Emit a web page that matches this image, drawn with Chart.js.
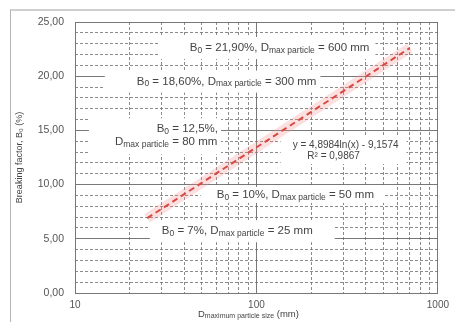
<!DOCTYPE html>
<html>
<head>
<meta charset="utf-8">
<script src="https://cdn.jsdelivr.net/npm/chart.js@4.4.0/dist/chart.umd.min.js"></script>
<style>
html, body { margin: 0; padding: 0; background: #fff; }
#wrap { position: relative; width: 455px; height: 322px; overflow: hidden; }
#frame { position: absolute; left: 10px; top: 9px; right: 0; bottom: 0; border-left: 1px solid #b4b4b4; border-top: 2px solid #cfcfcf; }
canvas { position: absolute; left: 0; top: 0; }
</style>
</head>
<body>
<div id="wrap"><div id="frame"></div><canvas id="breakChart" width="455" height="322"></canvas></div>
<script>
// points of the figure: max particle size (mm) -> breaking factor (%)
var particleSize = [25, 50, 80, 300, 600];
var breakingFactor = [7, 10, 12.5, 18.6, 21.9];
var factorText = ['7%', '10%', '12,5%', '18,60%', '21,90%'];

// trend line as drawn (read at both ends)
var trendX = [25, 700];
var trendY = [6.9, 22.6];
var trendEq = 'y = 4,8984ln(x) - 9,1574';
var trendR2 = '0,9867';

// ticks / grid
var xMajor = [10, 100, 1000];
var xMinor = [20, 30, 40, 50, 60, 70, 80, 90, 200, 300, 400, 500, 600, 700, 800, 900];
var yMajor = [0, 5, 10, 15, 20, 25];
var yMinor = [1, 2, 3, 4, 6, 7, 8, 9, 11, 12, 13, 14, 16, 17, 18, 19, 21, 22, 23, 24];

var FONT = '"Liberation Sans", Arial, sans-serif';
var MAIN = '11.5px ' + FONT;
var SUB = '8.5px ' + FONT;

function partsFor(i) {
	return [['B'], ['0', 1], [' = ' + factorText[i] + ', D'], ['max particle', 1], [' = ' + particleSize[i] + ' mm']];
}

function richWidth(ctx, parts, main, sub) {
	var w = 0;
	for (var k = 0; k < parts.length; k++) {
		ctx.font = parts[k][1] ? (sub || SUB) : (main || MAIN);
		w += ctx.measureText(parts[k][0]).width;
	}
	return w;
}

function drawRich(ctx, parts, x, y, main, sub) {
	ctx.textBaseline = 'middle';
	ctx.textAlign = 'left';
	for (var k = 0; k < parts.length; k++) {
		ctx.font = parts[k][1] ? (sub || SUB) : (main || MAIN);
		ctx.fillText(parts[k][0], x, parts[k][1] ? y + 2.5 : y);
		x += ctx.measureText(parts[k][0]).width;
	}
}

// label blocks, anchored in data units (left edge of text, middle of line)
var labelBlocks = [
	{ x: 42.9, y: 22.6, parts: partsFor(4), pad: [30, 6, 11] },
	{ x: 21.9, y: 19.5, parts: partsFor(3), pad: [32, 4, 11] },
	{ x: 60.4, y: 9.05, parts: partsFor(1), pad: [16, 10, 8] },
	{ x: 30.1, y: 5.7, parts: partsFor(0), pad: [12, 22, 11] }
];
// the 80 mm label sits on two lines
var twoLine = {
	x1: 28.2, x2: 16.6, y: 15.1,
	first: [['B'], ['0', 1], [' = ' + factorText[2] + ',']],
	second: [['D'], ['max particle', 1], [' = ' + particleSize[2] + ' mm']]
};

var annotatePlugin = {
	id: 'annotate',
	beforeDatasetsDraw: function(chart) {
		var ctx = chart.ctx;
		var xs = chart.scales.x, ys = chart.scales.y;
		ctx.save();
		labelBlocks.forEach(function(b) {
			var lx = xs.getPixelForValue(b.x);
			var ly = ys.getPixelForValue(b.y);
			var w = richWidth(ctx, b.parts);
			ctx.fillStyle = '#fff';
			ctx.fillRect(lx - b.pad[0], ly - b.pad[2], w + b.pad[0] + b.pad[1], b.pad[2] * 2);
			ctx.fillStyle = '#444';
			drawRich(ctx, b.parts, lx, ly);
		});

		var ax = xs.getPixelForValue(twoLine.x1), bx = xs.getPixelForValue(twoLine.x2);
		var ty = ys.getPixelForValue(twoLine.y);
		var right = Math.max(ax + richWidth(ctx, twoLine.first), bx + richWidth(ctx, twoLine.second));
		ctx.fillStyle = '#fff';
		ctx.fillRect(bx - 26, ty - 11, right - bx + 29, 36);
		ctx.fillStyle = '#444';
		drawRich(ctx, twoLine.first, ax, ty);
		drawRich(ctx, twoLine.second, bx, ty + 13);

		// trend equation
		var ex = xs.getPixelForValue(310), ey = ys.getPixelForValue(13.65);
		ctx.font = '10px ' + FONT;
		var ew = ctx.measureText(trendEq).width;
		ctx.fillStyle = '#fff';
		ctx.fillRect(ex - ew / 2 - 12, ey - 8, ew + 20, 27);
		ctx.fillStyle = '#444';
		ctx.textAlign = 'center';
		ctx.textBaseline = 'middle';
		ctx.fillText(trendEq, ex, ey);
		ctx.fillText('R² = ' + trendR2, ex - 12, ey + 11);
		ctx.restore();
	},
	afterDraw: function(chart) {
		// x axis title with subscript
		var ctx = chart.ctx;
		var area = chart.chartArea;
		var parts = [['D'], ['maximum particle size', 1], [' (mm)']];
		var main = '9.5px ' + FONT, sub = '7px ' + FONT;
		ctx.save();
		ctx.fillStyle = '#444';
		var w = richWidth(ctx, parts, main, sub);
		drawRich(ctx, parts, (area.left + area.right) / 2 - 8 - w / 2, 314, main, sub);
		ctx.restore();
	}
};

function setTicks(list) {
	return function(scale) {
		scale.ticks = list.map(function(v) { return { value: v }; });
	};
}

var gridMajor = 'rgba(105,105,105,0.9)';
var gridMinor = 'rgba(110,110,110,0.8)';

var ctx = document.getElementById('breakChart');

var chart = new Chart(ctx, {
	type: 'line',
	data: {
		datasets: [
			{
				label: 'halo',
				data: trendX.map(function(v, i) { return { x: v, y: trendY[i] }; }),
				borderColor: 'rgba(245,140,140,0.28)',
				borderWidth: 10,
				pointRadius: 0,
				xAxisID: 'x',
				yAxisID: 'y'
			},
			{
				label: 'trend',
				data: trendX.map(function(v, i) { return { x: v, y: trendY[i] }; }),
				borderColor: '#cf2f28',
				borderWidth: 2,
				borderDash: [6, 4],
				pointRadius: 0,
				xAxisID: 'x',
				yAxisID: 'y'
			},
			{
				label: 'points',
				data: particleSize.map(function(v, i) { return { x: v, y: breakingFactor[i] }; }),
				showLine: false,
				pointRadius: 0,
				xAxisID: 'x',
				yAxisID: 'y'
			}
		]
	},
	options: {
		responsive: false,
		devicePixelRatio: 1,
		animation: false,
		layout: { padding: { left: 0, right: 17, top: 22, bottom: 0 } },
		plugins: { legend: { display: false }, tooltip: { enabled: false } },
		scales: {
			x: {
				type: 'logarithmic',
				min: 10,
				max: 1000,
				afterBuildTicks: setTicks(xMajor),
				afterFit: function(s) { s.height = 29; },
				grid: { color: gridMajor, lineWidth: 1, drawTicks: false },
				border: { display: true, color: '#777' },
				ticks: {
					padding: 6,
					color: '#555',
					font: { family: FONT, size: 10 },
					maxRotation: 0,
					autoSkip: false,
					callback: function(v) { return String(v); }
				}
			},
			xm: {
				type: 'logarithmic',
				position: 'bottom',
				min: 10,
				max: 1000,
				afterBuildTicks: setTicks(xMinor),
				afterFit: function(s) { s.height = 0; },
				grid: { color: gridMinor, lineWidth: 1, drawTicks: false },
				border: { display: false, dash: [3, 2] },
				ticks: { display: false }
			},
			y: {
				min: 0,
				max: 25,
				afterBuildTicks: setTicks(yMajor),
				afterFit: function(s) { s.width = 75; },
				grid: { color: gridMajor, lineWidth: 1, drawTicks: false },
				border: { display: true, color: '#777' },
				title: {
					display: true,
					text: 'Breaking factor, B₀ (%)',
					color: '#444',
					font: { family: FONT, size: 9 },
					padding: { top: 14.5, bottom: 0 }
				},
				ticks: {
					padding: 11,
					color: '#555',
					font: { family: FONT, size: 10.5 },
					callback: function(v) { return v.toFixed(2).replace('.', ','); }
				}
			},
			ym: {
				position: 'left',
				min: 0,
				max: 25,
				afterBuildTicks: setTicks(yMinor),
				afterFit: function(s) { s.width = 0; },
				grid: { color: gridMinor, lineWidth: 1, drawTicks: false },
				border: { display: false, dash: [3, 2] },
				ticks: { display: false }
			}
		}
	},
	plugins: [annotatePlugin]
});
</script>
</body>
</html>
